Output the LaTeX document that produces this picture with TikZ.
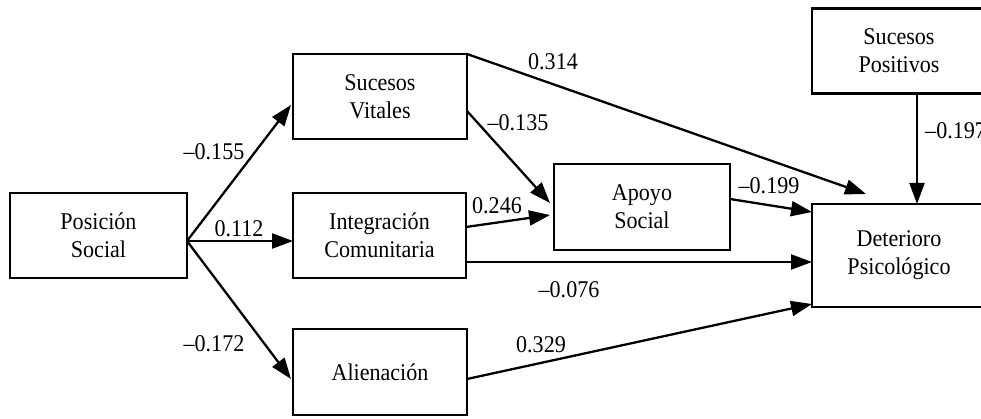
\documentclass[tikz,border=0pt]{standalone}
\usepackage{fontspec}
\setmainfont{Liberation Serif}[FakeStretch=0.92]
\usetikzlibrary{arrows.meta,calc}
\begin{document}
\begin{tikzpicture}[x=1pt,y=-1pt,
  every node/.style={font=\fontsize{24}{28}\selectfont},
  box/.style={draw,line width=2.4pt,align=center,inner sep=0pt,outer sep=0pt},
  conn/.style={line width=2.3pt,-{Triangle[length=21pt,width=15pt]}},
  lbl/.style={inner sep=0pt}]
\useasboundingbox (0,0) rectangle (981,419);
\clip (0,0) rectangle (981,419);
\node[box,minimum width=177pt,minimum height=85pt] (ps) at (98.5,235.5) {Posición\\Social};
\node[box,minimum width=174pt,minimum height=85pt] (sv) at (380,96.5) {Sucesos\\Vitales};
\node[box,minimum width=173pt,minimum height=85pt] (ic) at (379.5,235.5) {Integración\\Comunitaria};
\node[box,minimum width=174pt,minimum height=86pt] (al) at (380,372) {Alienación};
\node[box,minimum width=176pt,minimum height=86pt] (ap) at (642,207) {Apoyo\\Social};
\node[box,minimum width=174pt,minimum height=103pt] (dp) at (899,255.5) {Deterioro\\Psicológico};
\node[box,minimum width=174pt,minimum height=85pt] (spos) at (899,51) {Sucesos\\Positivos};
% connectors
\draw[conn] ($(ps.east)+(0,5.5)$) -- ($(sv.west)+(-2,8.5)$);
\draw[conn] ($(ps.east)+(0,5.5)$) -- ($(ic.west)+(0,5.5)$);
\draw[conn] ($(ps.east)+(0,5.5)$) -- ($(al.west)+(-2,7)$);
\draw[conn] (sv.north east) -- ($(dp.north west)+(54,-10)$);
\draw[conn] ($(sv.east)+(0,14.5)$) -- ($(ap.west)+(-4,-4)$);
\draw[conn] ($(ic.east)+(0,-8.5)$) -- ($(ap.west)+(-4,8)$);
\draw[conn] ($(ic.east)+(0,26.5)$) -- ($(dp.west)+(0,6.5)$);
\draw[conn] ($(al.east)+(0,7)$) -- ($(dp.south west)+(0,-3)$);
\draw[conn] ($(ap.east)+(0,-8)$) -- ($(dp.north west)+(0,8)$);
\draw[conn] ($(spos.south)+(18,0)$) -- ($(dp.north)+(18,0)$);
% labels
\node[lbl] (l1) at (214,152) {–0.155};
\node[lbl] (l2) at (239,229) {0.112};
\node[lbl] (l3) at (214,344) {–0.172};
\node[lbl] (l4) at (553,62) {0.314};
\node[lbl] (l5) at (518,123) {–0.135};
\node[lbl] (l6) at (497,206) {0.246};
\node[lbl] (l7) at (769,186) {–0.199};
\node[lbl] (l8) at (569,290) {–0.076};
\node[lbl] (l9) at (541,345) {0.329};
\node[lbl,anchor=west] (l10) at (925,131) {–0.197};
\end{tikzpicture}
\end{document}
